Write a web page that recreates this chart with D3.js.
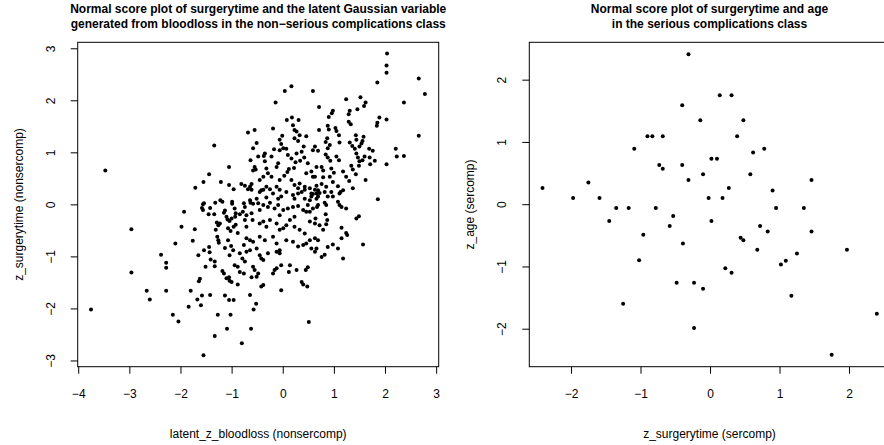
<!DOCTYPE html>
<html>
<head>
<meta charset="utf-8">
<script src="https://cdn.jsdelivr.net/npm/d3@7"></script>
<style>
  body { margin: 0; background: #fff; }
  svg { display: block; font-family: "Liberation Sans", Arial, sans-serif; }
</style>
</head>
<body>
<div id="chart"></div>
<script>
// titles and labels
const leftTitle = ["Normal score plot of surgerytime and the latent Gaussian variable",
                   "generated from bloodloss in the non\u2212serious complications class"];
const rightTitle = ["Normal score plot of surgerytime and age",
                    "in the serious complications class"];
const leftXLabel = "latent_z_bloodloss (nonsercomp)";
const leftYLabel = "z_surgerytime (nonsercomp)";
const rightXLabel = "z_surgerytime (sercomp)";
const rightYLabel = "z_age (sercomp)";

// tick values
const leftXTicks = [-4, -3, -2, -1, 0, 1, 2, 3];
const leftYTicks = [-3, -2, -1, 0, 1, 2, 3];
const rightXTicks = [-2, -1, 0, 1, 2];
const rightYTicks = [-2, -1, 0, 1, 2];

// non-serious complications: [latent_z_bloodloss, z_surgerytime]
const nonsercomp = [
  // far left
  [-3.75,-2.02],[-3.47,0.65],[-2.96,-0.48],[-2.96,-1.31],[-2.66,-1.66],[-2.60,-1.83],[-2.38,-0.97],
  [-2.28,-1.12],[-2.28,-1.22],[-2.28,-1.66],[-2.15,-2.12],[-2.04,-2.25],[-2.10,-0.75],[-1.98,-0.43],
  [-1.93,-0.14],[-1.76,-0.70],[-1.72,-0.48],[-1.84,-1.97],
  // lower left
  [-1.56,0.00],[-1.54,0.02],[-1.58,-0.07],[-1.56,-0.11],[-1.42,-0.07],[-1.32,0.03],[-1.34,-0.19],
  [-1.22,0.08],[-1.18,0.05],[-1.45,-0.19],[-1.29,-0.35],[-1.23,-0.37],[-1.26,-0.40],[-1.15,-0.16],
  [-1.13,-0.12],[-1.10,-0.24],[-1.08,-0.29],[-1.04,-0.32],[-1.00,-0.27],[-0.99,0.05],[-0.99,0.01],
  [-0.94,-0.08],[-0.92,-0.17],[-0.93,-0.24],[-0.84,-0.19],[-0.76,0.02],[-0.74,-0.05],[-0.71,-0.21],
  [-0.64,0.08],[-0.63,0.03],[-0.74,-0.30],[-0.71,-0.43],[-1.07,-0.46],[-1.02,-0.51],[-0.96,-0.43],
  [-0.92,-0.39],[-1.31,-0.49],[-1.28,-0.62],[-1.26,-0.69],[-1.25,-0.74],[-1.07,-0.69],[-1.01,-0.80],
  [-0.97,-0.88],[-1.13,-0.84],[-1.04,-0.98],[-1.54,-0.88],[-1.44,-0.82],[-1.43,-0.92],[-1.65,-0.98],
  [-1.41,-1.06],[-1.33,-1.10],[-1.33,-1.19],[-1.51,-1.20],[-1.18,-1.28],[-1.15,-1.33],[-1.10,-1.42],
  [-1.05,-1.40],[-1.04,-1.47],[-1.00,-1.49],[-1.62,-1.43],[-1.64,-1.48],[-1.80,-1.66],[-1.67,-1.83],
  [-1.58,-1.75],[-1.60,-1.94],[-1.42,-1.74],[-1.27,-2.12],[-1.02,-2.12],[-1.13,-1.75],[-1.05,-1.84],
  [-0.96,-1.84],[-1.09,-2.39],[-1.33,-2.53],[-1.55,-2.90],[-0.80,-2.67],[-0.88,-1.54],
  [-0.78,-0.14],[-0.61,-0.17],[-0.88,-0.55],[-0.71,-0.65],[-0.64,-0.69],[-0.76,-0.78],[-0.84,-0.94],
  [-0.71,-0.91],[-0.64,-0.88],[-0.94,-1.17],[-0.88,-1.20],[-0.76,-1.33],[-0.79,-1.04],[-0.74,-1.10],
  [-0.84,-1.30],
  // upper left and centre top
  [0.17,2.27],[0.04,2.18],[0.59,2.18],[-0.14,1.96],[0.71,1.87],
  [0.08,1.62],[0.18,1.67],[0.31,1.62],[0.20,1.52],[0.23,1.43],[-0.19,1.46],[-0.68,1.38],[-0.55,1.43],
  [0.27,1.40],[0.33,1.33],[0.46,1.31],[0.71,1.43],[-0.01,1.32],[-0.06,1.24],[-0.03,1.16],[0.23,1.27],
  [0.30,1.22],[-0.51,1.18],[-0.58,1.08],[-0.35,0.98],[-0.37,0.93],[-0.17,1.06],[-0.06,1.04],[0.01,1.08],
  [0.07,1.07],[0.63,1.11],[0.59,1.04],[0.69,1.03],[-0.63,0.85],[-0.55,0.72],[-0.53,0.67],[-0.58,0.65],
  [-1.05,0.72],[-1.44,0.58],[-1.21,0.43],[-1.55,0.43],[-1.71,0.32],[-1.34,1.13],[-1.05,0.37],[-0.96,0.29],
  [-0.81,0.39],[-0.74,0.36],[-0.64,0.34],[-0.61,0.39],[-0.68,0.29],[-0.42,0.27],[-0.32,0.34],[-0.25,0.29],
  [-0.12,0.34],[-0.06,0.47],[0.03,0.55],[0.09,0.62],[0.12,0.68],[0.22,0.70],[0.25,0.81],[0.34,0.84],
  [0.42,0.90],[-0.12,0.72],[-0.09,0.79],[-0.32,0.69],[-0.29,0.60],[-0.22,0.53],[-0.38,0.53],[-0.45,0.47],
  [0.17,0.47],[0.23,0.37],[0.30,0.31],[0.33,0.40],[0.43,0.34],[0.53,0.31],[0.59,0.53],[0.56,0.63],
  [0.66,0.72],[0.46,0.60],[0.49,0.79],[-0.35,0.83],[-0.48,0.92],[-0.22,0.92],[0.10,0.95],[0.17,0.88],
  [0.27,0.98],[0.37,1.01],[0.41,1.11],
  // upper right
  [2.04,2.90],[2.03,2.67],[2.03,2.53],[1.85,2.34],[2.66,2.42],[2.78,2.12],[2.37,1.96],[1.24,2.02],
  [1.52,2.06],[1.62,1.96],[1.59,1.89],[1.46,1.83],[1.31,1.80],[1.29,1.73],[0.98,1.80],[0.96,1.75],
  [0.90,1.68],[1.89,1.67],[1.85,1.57],[1.84,1.51],[2.03,1.63],[1.29,1.59],[1.33,1.54],[0.88,1.51],
  [0.90,1.44],[1.03,1.47],[1.05,1.41],[2.66,1.32],[0.87,1.27],[0.84,1.20],[1.10,1.33],[1.43,1.33],
  [1.44,1.24],[1.58,1.30],[1.56,1.22],[0.92,1.14],[0.88,1.08],[1.11,1.19],[1.31,1.19],[1.36,1.12],
  [1.41,1.07],[1.50,1.11],[1.54,1.17],[1.69,1.07],[1.76,1.03],[2.21,1.07],[2.23,0.92],[2.37,0.93],
  [0.84,0.96],[0.88,0.90],[0.93,0.84],[1.05,0.92],[1.10,0.85],[1.44,0.98],[1.47,0.90],[1.50,0.83],
  [1.56,0.85],[1.49,0.74],[1.60,0.92],[1.70,0.90],[1.80,0.84],[2.03,0.77],[1.71,0.77],[0.63,0.53],
  [0.76,0.72],[0.79,0.65],[0.95,0.69],[1.00,0.61],[1.18,0.63],[1.24,0.53],[1.30,0.45],[1.34,0.74],
  [1.37,0.67],[1.43,0.58],[1.62,0.47],[1.37,0.31],[1.18,0.27],[1.08,0.35],[0.98,0.43],[0.92,0.53],
  [0.79,0.52],[0.76,0.39],[0.66,0.36],[0.69,0.27],[0.85,0.34],[1.13,0.24],
  // lower right
  [1.86,0.10],[0.66,0.21],[0.59,0.20],[0.56,0.15],[0.69,0.15],[0.72,0.22],[0.82,0.24],[0.88,0.15],
  [0.95,0.24],[0.98,0.15],[1.11,0.21],[1.08,0.05],[1.11,-0.01],[1.15,-0.05],[1.24,-0.08],[0.82,0.03],
  [0.85,-0.01],[0.67,-0.05],[0.53,-0.14],[0.64,-0.27],[0.84,-0.19],[0.87,-0.30],[0.85,-0.38],[0.72,-0.40],
  [0.79,-0.49],[0.53,-0.69],[0.63,-0.65],[0.66,-0.85],[0.88,-0.82],[0.98,-0.77],[1.08,-0.85],[0.76,-1.01],
  [0.82,-0.97],[1.18,-1.04],[1.15,-0.45],[1.24,-0.55],[1.26,-0.59],[1.15,-0.65],[1.44,-0.27],[1.49,-0.23],
  [1.57,-0.77],
  // centre and lower centre
  [-0.45,0.24],[-0.38,0.28],[-0.19,0.21],[-0.06,0.28],[0.07,0.24],[0.20,0.18],[0.30,0.21],[0.37,0.24],
  [0.43,0.28],[0.56,0.21],[0.63,0.28],[-0.51,0.11],[-0.32,0.13],[-0.09,0.11],[-0.03,0.15],[0.23,0.11],
  [0.43,0.11],[0.53,0.08],[0.66,0.11],[0.69,-0.01],[-0.61,0.28],
  [-0.58,0.01],[-0.48,0.02],[-0.38,-0.01],[-0.29,-0.05],[-0.25,0.03],[-0.16,-0.08],[-0.09,-0.01],[0.01,-0.11],
  [0.10,-0.08],[0.20,-0.05],[0.30,-0.03],[0.40,-0.11],[0.49,-0.01],[0.59,-0.08],[-0.45,-0.11],[-0.06,-0.21],
  [0.23,-0.24],[0.46,-0.14],
  [-0.59,-0.30],[-0.45,-0.37],[-0.38,-0.33],[-0.32,-0.43],[-0.25,-0.30],[-0.12,-0.37],[-0.06,-0.49],[0.01,-0.46],
  [0.07,-0.40],[0.14,-0.30],[0.23,-0.43],[0.33,-0.49],[0.43,-0.56],[0.53,-0.33],[0.63,-0.37],
  [-0.58,-0.72],[-0.45,-0.62],[-0.35,-0.69],[-0.19,-0.62],[-0.12,-0.75],[-0.06,-0.88],[0.07,-0.69],[0.20,-0.72],
  [0.30,-0.81],[0.40,-0.78],[0.46,-0.75],[0.56,-0.85],[0.63,-0.91],[0.69,-0.69],[-0.51,-0.85],
  [-0.45,-0.98],[-0.38,-1.07],[-0.42,-1.04],[-0.29,-0.94],[-0.12,-0.91],[-0.06,-0.94],[0.14,-1.17],[0.27,-1.26],
  [0.45,-1.26],[0.49,-1.21],[-0.58,-1.20],[-0.55,-1.26],[-0.48,-1.33],[-0.12,-1.23],[-0.03,-1.17],[-0.16,-1.26],
  [0.12,-1.30],
  [-0.61,-1.40],[-0.51,-1.39],[-0.42,-1.58],[-0.38,-1.55],[-0.19,-1.33],[0.37,-1.49],[0.40,-1.54],[0.48,-1.58],
  [-0.03,-1.65],[-0.64,-1.74],[-0.57,-2.02],[-0.52,-1.91],[-0.62,-2.39],[0.51,-2.26]
];

// serious complications: [z_surgerytime, z_age]
const sercomp = [
  [-0.31,2.41],[-0.40,1.59],[-0.90,1.09],[-0.83,1.09],[-0.68,1.09],[-1.09,0.89],[-0.73,0.63],[-0.68,0.57],
  [-0.40,0.63],[-0.31,0.39],[-1.75,0.35],[-2.41,0.26],
  [0.14,1.75],[0.31,1.75],[-0.14,1.35],[0.48,1.35],[0.39,1.09],[0.78,0.89],[0.62,0.83],[0.02,0.73],
  [0.10,0.73],[-0.10,0.48],[0.58,0.48],[1.46,0.39],[0.27,0.26],[0.90,0.22],
  [-1.97,0.10],[-1.59,0.10],[-1.35,-0.06],[-1.17,-0.06],[-0.78,-0.06],[-1.45,-0.27],[-0.53,-0.19],[-0.58,-0.35],
  [-0.96,-0.49],[-0.39,-0.63],[-1.02,-0.90],[-0.48,-1.26],[-1.25,-1.60],
  [-0.02,0.10],[0.18,0.10],[0.95,-0.06],[1.35,-0.06],[0.02,-0.27],[0.72,-0.35],[0.83,-0.44],[1.46,-0.44],
  [0.44,-0.54],[0.48,-0.58],[0.68,-0.73],[1.97,-0.73],[1.25,-0.79],[1.02,-0.97],[1.09,-0.91],[0.22,-1.03],
  [0.31,-1.10],[-0.23,-1.26],[-0.10,-1.36],[1.17,-1.47],[2.40,-1.76],[-0.23,-1.99],[1.75,-2.42]
];

const width = 884, height = 445;
const font = "Liberation Sans, Arial, sans-serif";
const fmt = d => (d < 0 ? "\u2212" + Math.abs(d) : String(d));

const svg = d3.select("#chart").append("svg")
  .attr("width", width)
  .attr("height", height);

svg.append("rect").attr("width", width).attr("height", height).attr("fill", "#fff");

function drawPanel(p) {
  const x = d3.scaleLinear().domain(p.xDomain).range([p.x0, p.x1]);
  const y = d3.scaleLinear().domain(p.yDomain).range([p.y1, p.y0]);
  const g = svg.append("g");

  // x axis
  g.append("g")
    .attr("transform", `translate(0,${p.y1})`)
    .call(d3.axisBottom(x).tickValues(p.xTicks).tickFormat(fmt)
      .tickSize(7).tickPadding(15.5).tickSizeOuter(0))
    .call(a => a.select(".domain").remove())
    .call(a => a.selectAll("line").attr("stroke", "#000"))
    .call(a => a.selectAll("text").attr("font-size", 12).attr("fill", "#000")
      .attr("font-family", font));

  // y axis, labels parallel to the axis as in R
  g.append("g")
    .attr("transform", `translate(${p.x0},0)`)
    .call(d3.axisLeft(y).tickValues(p.yTicks).tickFormat(fmt)
      .tickSize(7).tickSizeOuter(0))
    .call(a => a.select(".domain").remove())
    .call(a => a.selectAll("line").attr("stroke", "#000"))
    .call(a => a.selectAll("text")
      .attr("x", null).attr("dy", null)
      .attr("text-anchor", "middle")
      .attr("transform", "translate(-23,0) rotate(-90)")
      .attr("font-size", 12).attr("fill", "#000")
      .attr("font-family", font));

  // box
  g.append("rect")
    .attr("x", p.x0).attr("y", p.y0)
    .attr("width", p.x1 - p.x0).attr("height", p.y1 - p.y0)
    .attr("fill", "none").attr("stroke", "#000").attr("stroke-width", 1);

  // points
  g.append("g").selectAll("circle")
    .data(p.data)
    .enter().append("circle")
    .attr("cx", d => x(d[0]))
    .attr("cy", d => y(d[1]))
    .attr("r", 2)
    .attr("fill", "#000");

  // title
  g.append("g").selectAll("text")
    .data(p.title)
    .enter().append("text")
    .attr("x", p.titleCenter)
    .attr("y", (d, i) => 12.5 + i * 15)
    .attr("text-anchor", "middle")
    .attr("font-weight", "bold")
    .attr("font-size", 12)
    .text(d => d);

  g.append("text")
    .attr("x", p.titleCenter)
    .attr("y", 438)
    .attr("text-anchor", "middle")
    .attr("font-size", 12)
    .text(p.xLabel);

  g.append("text")
    .attr("transform", `translate(${p.x0 - 55},${(p.y0 + p.y1) / 2}) rotate(-90)`)
    .attr("text-anchor", "middle")
    .attr("font-size", 12)
    .text(p.yLabel);
}

drawPanel({
  x0: 77.7, x1: 438.7, y0: 42.3, y1: 366.7,
  xDomain: [-4.01, 3.05], yDomain: [-3.12, 3.115],
  xTicks: leftXTicks, yTicks: leftYTicks,
  data: nonsercomp, title: leftTitle, titleCenter: 258.2,
  xLabel: leftXLabel, yLabel: leftYLabel
});

drawPanel({
  x0: 529.3, x1: 889.7, y0: 42.3, y1: 366.7,
  xDomain: [-2.60, 2.585], yDomain: [-2.61, 2.60],
  xTicks: rightXTicks, yTicks: rightYTicks,
  data: sercomp, title: rightTitle, titleCenter: 709.5,
  xLabel: rightXLabel, yLabel: rightYLabel
});
</script>
</body>
</html>
